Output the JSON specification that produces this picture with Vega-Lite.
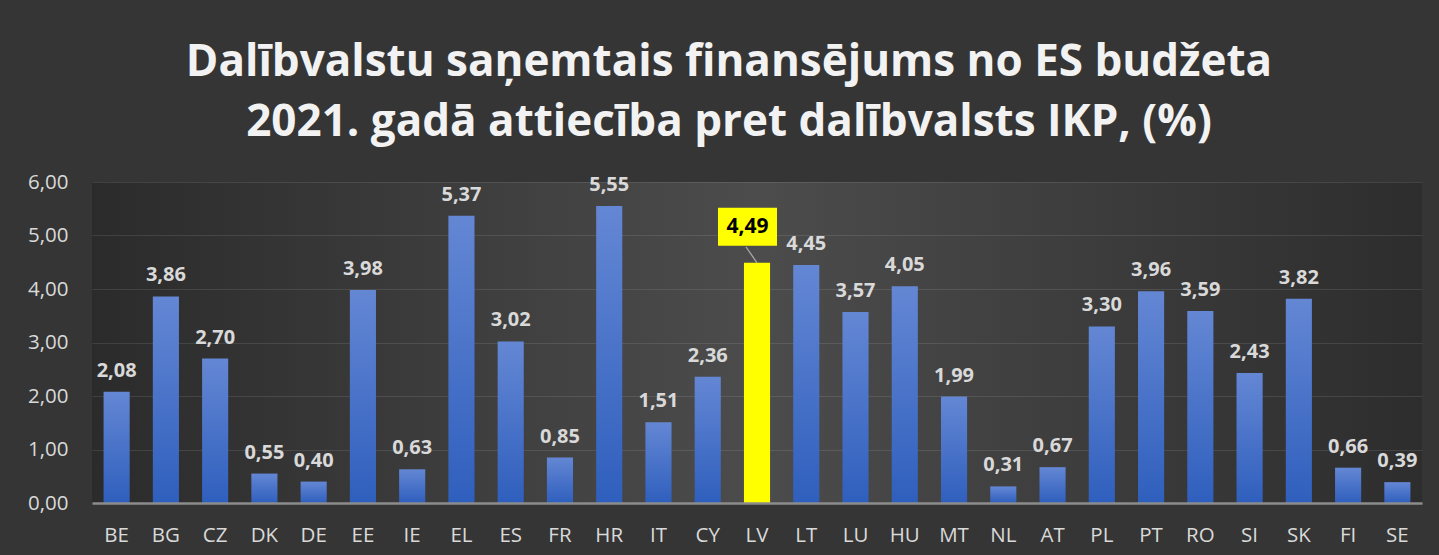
{
  "$schema": "https://vega.github.io/schema/vega-lite/v6.json",
  "width": 1330,
  "height": 321,
  "autosize": {"type": "none"},
  "padding": {"left": 92, "top": 182, "right": 17, "bottom": 52},
  "background": "#353535",
  "title": {
    "text": ["Dalībvalstu saņemtais finansējums no ES budžeta", "2021. gadā attiecība pret dalībvalsts IKP, (%)"],
    "font": "Open Sans",
    "fontSize": 44,
    "fontWeight": "bold",
    "color": "#f2f2f2",
    "lineHeight": 60,
    "anchor": "middle",
    "dx": -28,
    "offset": 27
  },
  "config": {
    "locale": {"number": {"decimal": ",", "thousands": " ", "grouping": [3], "currency": ["", " €"]}},
    "view": {
      "stroke": null,
      "fill": {
        "gradient": "linear", "x1": 0, "y1": 0, "x2": 1, "y2": 0,
        "stops": [
          {"offset": 0, "color": "#2b2b2b"},
          {"offset": 0.5, "color": "#4c4c4c"},
          {"offset": 1, "color": "#2d2d2d"}
        ]
      }
    }
  },
  "data": {
    "values": [
      {"Country": "BE", "Value": 2.08},
      {"Country": "BG", "Value": 3.86},
      {"Country": "CZ", "Value": 2.70},
      {"Country": "DK", "Value": 0.55},
      {"Country": "DE", "Value": 0.40},
      {"Country": "EE", "Value": 3.98},
      {"Country": "IE", "Value": 0.63},
      {"Country": "EL", "Value": 5.37},
      {"Country": "ES", "Value": 3.02},
      {"Country": "FR", "Value": 0.85},
      {"Country": "HR", "Value": 5.55},
      {"Country": "IT", "Value": 1.51},
      {"Country": "CY", "Value": 2.36},
      {"Country": "LV", "Value": 4.49},
      {"Country": "LT", "Value": 4.45},
      {"Country": "LU", "Value": 3.57},
      {"Country": "HU", "Value": 4.05},
      {"Country": "MT", "Value": 1.99},
      {"Country": "NL", "Value": 0.31},
      {"Country": "AT", "Value": 0.67},
      {"Country": "PL", "Value": 3.30},
      {"Country": "PT", "Value": 3.96},
      {"Country": "RO", "Value": 3.59},
      {"Country": "SI", "Value": 2.43},
      {"Country": "SK", "Value": 3.82},
      {"Country": "FI", "Value": 0.66},
      {"Country": "SE", "Value": 0.39}
    ]
  },
  "encoding": {
    "x": {
      "field": "Country",
      "type": "nominal",
      "sort": null,
      "scale": {
        "domain": ["BE","BG","CZ","DK","DE","EE","IE","EL","ES","FR","HR","IT","CY","LV","LT","LU","HU","MT","NL","AT","PL","PT","RO","SI","SK","FI","SE"],
        "paddingInner": 0.47,
        "paddingOuter": 0.235
      },
      "axis": {
        "title": null,
        "labelAngle": 0,
        "domain": true,
        "domainColor": "#8c8c8c",
        "domainWidth": 2.5,
        "ticks": false,
        "tickSize": 0,
        "labelPadding": 22,
        "labelFont": "Open Sans",
        "labelFontSize": 20.5,
        "labelColor": "#d9d9d9",
        "grid": false,
        "zindex": 1
      }
    },
    "y": {
      "field": "Value",
      "type": "quantitative",
      "scale": {"domain": [0, 6]},
      "axis": {
        "title": null,
        "values": [0, 1, 2, 3, 4, 5, 6],
        "format": ".2f",
        "domain": false,
        "ticks": false,
        "tickSize": 0,
        "labelPadding": 24,
        "labelFont": "Open Sans",
        "labelFontSize": 20.5,
        "labelColor": "#d9d9d9",
        "gridColor": "#ffffff",
        "gridOpacity": 0.1,
        "gridWidth": 1
      }
    }
  },
  "layer": [
    {
      "transform": [{"filter": "datum.Country !== 'LV'"}],
      "mark": {
        "type": "bar",
        "color": {
          "gradient": "linear", "x1": 0, "y1": 0, "x2": 0, "y2": 1,
          "stops": [
            {"offset": 0, "color": "#6487d4"},
            {"offset": 1, "color": "#2f5fbd"}
          ]
        }
      }
    },
    {
      "transform": [{"filter": "datum.Country === 'LV'"}],
      "mark": {"type": "bar", "color": "#ffff00"}
    },
    {
      "transform": [{"filter": "datum.Country !== 'LV'"}],
      "mark": {
        "type": "text",
        "font": "Open Sans",
        "fontWeight": "bold",
        "fontSize": 20,
        "color": "#d9d9d9",
        "baseline": "alphabetic",
        "dy": -15
      },
      "encoding": {"text": {"field": "Value", "type": "quantitative", "format": ".2f"}}
    },
    {
      "transform": [{"filter": "datum.Country === 'LV'"}],
      "mark": {
        "type": "point",
        "shape": "M-39,-55L20,-55L20,-17L-39,-17Z",
        "size": 4,
        "filled": true,
        "fill": "#ffff00",
        "strokeWidth": 0,
        "opacity": 1
      }
    },
    {
      "transform": [{"filter": "datum.Country === 'LV'"}],
      "mark": {
        "type": "point",
        "shape": "M0,0L-11,-16",
        "size": 4,
        "filled": false,
        "stroke": "#a6a6a6",
        "strokeWidth": 1.3,
        "opacity": 1
      }
    },
    {
      "transform": [{"filter": "datum.Country === 'LV'"}],
      "mark": {
        "type": "text",
        "font": "Open Sans",
        "fontWeight": "bold",
        "fontSize": 21,
        "color": "#000000",
        "baseline": "middle",
        "dx": -9.5,
        "dy": -36
      },
      "encoding": {"text": {"field": "Value", "type": "quantitative", "format": ".2f"}}
    }
  ]
}
